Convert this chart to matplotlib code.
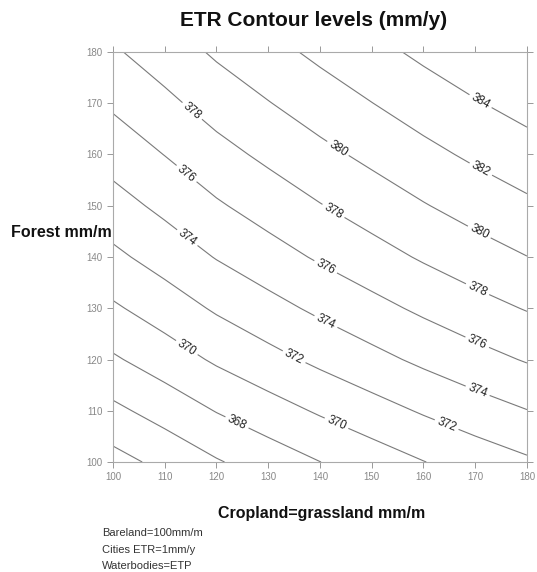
import matplotlib
matplotlib.use("Agg")
import matplotlib.pyplot as plt
import numpy as np

plt.rcParams['font.family'] = ['Liberation Sans', 'DejaVu Sans']

# Grid axes (mm/m)
cropland = [100, 110, 120, 130, 140, 150, 160, 170, 180]
forest = [100, 110, 120, 130, 140, 150, 160, 170, 180]

# ETR (mm/y) on the grid: rows follow forest, columns follow cropland
etr = [
    [363.30, 364.54, 365.83, 366.92, 367.98, 368.97, 369.95, 370.86, 371.70],
    [365.55, 366.79, 368.08, 369.17, 370.23, 371.22, 372.20, 373.11, 373.95],
    [367.75, 368.99, 370.28, 371.37, 372.43, 373.42, 374.40, 375.31, 376.15],
    [369.72, 370.96, 372.25, 373.34, 374.40, 375.39, 376.37, 377.28, 378.12],
    [371.57, 372.81, 374.10, 375.19, 376.25, 377.24, 378.22, 379.13, 379.97],
    [373.23, 374.47, 375.76, 376.85, 377.91, 378.90, 379.88, 380.79, 381.63],
    [374.80, 376.04, 377.33, 378.42, 379.48, 380.47, 381.45, 382.36, 383.20],
    [376.30, 377.54, 378.83, 379.92, 380.98, 381.97, 382.95, 383.86, 384.70],
    [377.75, 378.99, 380.28, 381.37, 382.43, 383.42, 384.40, 385.31, 386.15],
]

levels = [364, 366, 368, 370, 372, 374, 376, 378, 380, 382, 384]
tick_values = [100, 110, 120, 130, 140, 150, 160, 170, 180]

notes = ["Bareland=100mm/m", "Cities ETR=1mm/y", "Waterbodies=ETP"]

# where the inline level labels sit
label_spots = [
    (170.8, 170.0), (170.8, 156.6), (170.8, 144.9), (170.4, 133.6),
    (170.4, 123.4), (170.4, 113.7), (164.6, 107.6),
    (143.3, 160.9), (142.5, 148.8), (141.0, 137.9), (141.0, 127.1),
    (135.2, 120.9), (143.3, 107.8),
    (115.4, 168.6), (114.0, 156.0), (114.0, 143.3), (114.0, 121.9),
    (124.0, 107.8),
]

fig = plt.figure(figsize=(5.37, 5.72), dpi=100)
ax = fig.add_axes([0.2104, 0.1923, 0.7709, 0.7168])

X, Y = np.meshgrid(cropland, forest)
cs = ax.contour(X, Y, np.array(etr), levels=levels, colors='#7a7a7a',
                linewidths=0.8)
ax.clabel(cs, fmt='%d', fontsize=8.5, colors='#222222', inline=True,
          inline_spacing=3, manual=label_spots)

ax.set_xlim(100, 180)
ax.set_ylim(100, 180)
ax.set_xticks(tick_values)
ax.set_yticks(tick_values)
ax.tick_params(axis='both', direction='out', length=4, width=0.7,
               colors='#999999', labelsize=7, labelcolor='#888888',
               top=True, right=True, labeltop=False, labelright=False)
for s in ax.spines.values():
    s.set_color('#aaaaaa')
    s.set_linewidth(0.8)

fig.text(0.584, 0.965, "ETR Contour levels (mm/y)", ha='center', va='center',
         fontsize=15, fontweight='bold', color='#111111')
fig.text(0.020, 0.594, "Forest mm/m", ha='left', va='center',
         fontsize=11.5, fontweight='bold', color='#111111')
fig.text(0.598, 0.103, "Cropland=grassland mm/m", ha='center', va='center',
         fontsize=11.5, fontweight='bold', color='#111111')
for i, t in enumerate(notes):
    fig.text(0.19, 0.068 - i * 0.029, t, ha='left', va='center',
             fontsize=8, color='#333333')

fig.savefig("out.png", dpi=100)
